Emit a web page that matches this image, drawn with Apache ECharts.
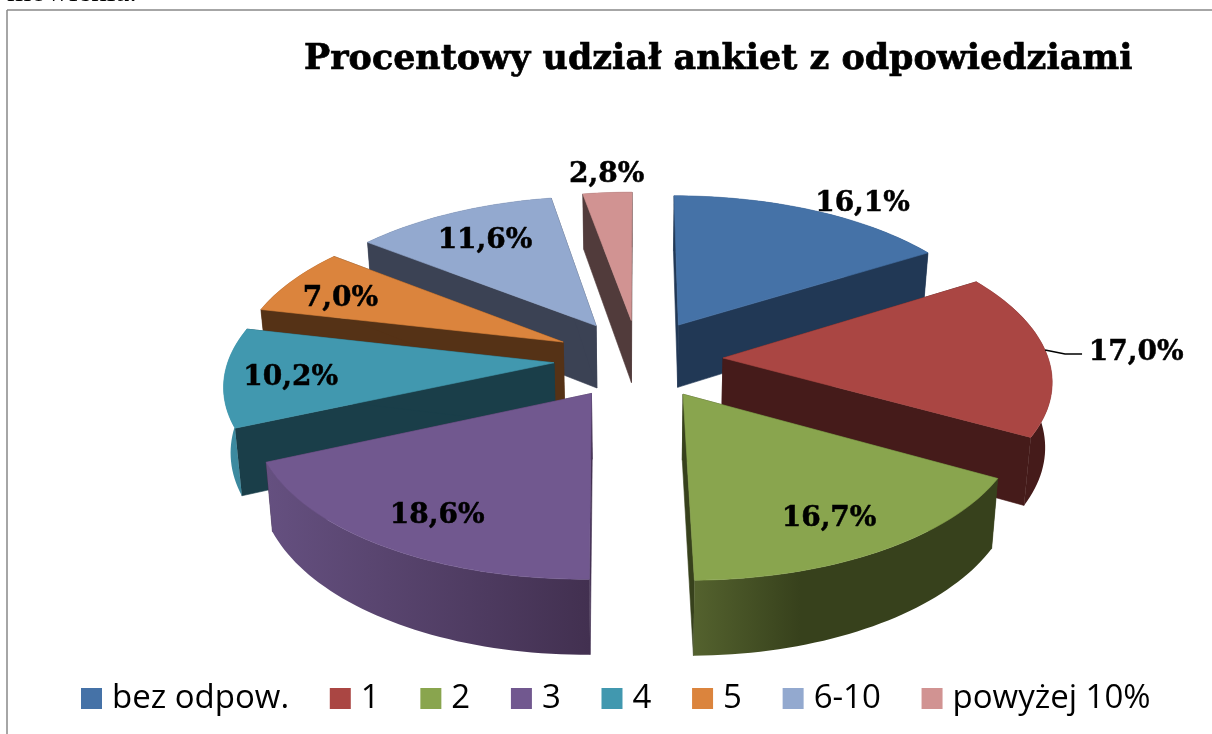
<!DOCTYPE html>
<html><head><meta charset="utf-8">
<style>html,body{margin:0;padding:0;background:#fff}#c{width:1212px;height:734px}</style>
<script src="https://cdn.jsdelivr.net/npm/echarts@6/dist/echarts.min.js"></script>
</head><body><div id="c"></div>
<script>
const categories = ['bez odpow.','1','2','3','4','5','6-10','powyżej 10%'];
const shares = [16.1,17.0,16.7,18.6,10.2,7.0,11.6,2.8];
const topColors = ['#4572a7','#aa4643','#89a54e','#71588f','#4198af','#db843d','#93a9cf','#d19392'];
const cutColors = ['#213855','#451b1a','#37411c','#433052','#1a3e49','#553216','#3b4254','#513b3b'];
const wallLeft  = ['#213855','#451b1a','#54622e','#655080','#3d8da3','#553216','#3b4254','#513b3b'];
const wallRight = ['#213855','#451b1a','#37411c','#423050','#3a8499','#553216','#3b4254','#513b3b'];
const wallStop  = [1,1,0.35,1,1,1,1,1];
const labelRadius = [1.14,1.278,0.80,0.80,0.80,0.788,0.739,1.16];
const labelTurn = [6.5,-0.2,2,-2.1,-1.3,-3.2,-0.7,0.5];

const view = {cx:638.5, cy:359, rx:325.4, ry:153.3, persp:0.1245, explode:0.26, depth:64, shrink:0.983};
const rad = d => d*Math.PI/180;
const total = shares.reduce((a,b)=>a+b,0);
let run = 0;
const slices = shares.map(v => { const a0 = run/total*360; run += v; const a1 = run/total*360; return {a0,a1,mid:(a0+a1)/2}; });

function project(s, angle, r, level){
  const X = r*Math.sin(rad(angle)) + view.explode*Math.sin(rad(s.mid));
  const Y = -r*Math.cos(rad(angle)) - view.explode*Math.cos(rad(s.mid));
  const p = 1/(1-view.persp*Y);
  const k = level ? view.shrink : 1;
  return [view.cx + view.rx*X*p*k, view.cy + view.ry*Y*p + (level?view.depth*p:0)];
}
function arc(s, level){
  const pts=[]; const n=Math.max(4,Math.ceil((s.a1-s.a0)/1.5));
  for(let i=0;i<=n;i++) pts.push(project(s, s.a0+(s.a1-s.a0)*i/n, 1, level));
  return pts;
}
function poly(points, fill){
  return {type:'polygon', shape:{points}, style:{fill, stroke:typeof fill==='string'?fill:null, lineWidth:0.6}};
}
function sliceItem(i){
  const s=slices[i];
  const apexT=project(s,s.mid,0,0), apexB=project(s,s.mid,0,1);
  const top=arc(s,0), bot=arc(s,1);
  const grad=new echarts.graphic.LinearGradient(0,0,1,0,[{offset:0,color:wallLeft[i]},{offset:wallStop[i],color:wallRight[i]},{offset:1,color:wallRight[i]}]);
  return {type:'group',children:[
    poly([apexT,top[0],bot[0],apexB],cutColors[i]),
    poly([apexT,top[top.length-1],bot[bot.length-1],apexB],cutColors[i]),
    poly(top.concat(bot.slice().reverse()),grad),
    poly([apexT].concat(top),topColors[i])
  ]};
}
function labelText(v){ return v.toFixed(1).replace('.',',')+'%'; }
function labelItems(){
  const kids=[];
  shares.forEach((v,i)=>{
    const s=slices[i];
    const c=project(s,s.mid+labelTurn[i],labelRadius[i],0);
    kids.push({type:'text',x:c[0],y:c[1],style:{text:labelText(v),fill:'#000',stroke:'#000',lineWidth:0.5,
      font:'bold 28px "DejaVu Serif"',align:'center',verticalAlign:'middle'}});
  });
  const s=slices[1], e=project(s,87,1,0);
  kids.push({type:'polyline',shape:{points:[e,[e[0]+20,e[1]+4],[e[0]+37,e[1]+4]]},style:{stroke:'#000',lineWidth:1.5,fill:null}});
  return {type:'group',children:kids};
}
const order = slices.map((s,i)=>({i,d:-Math.cos(rad(s.mid))})).sort((a,b)=>a.d-b.d).map(o=>o.i);
const series = categories.map((name,i)=>({
  type:'custom',name,coordinateSystem:'none',z:3+order.indexOf(i),silent:true,
  itemStyle:{color:topColors[i]},data:[[shares[i]]],renderItem:()=>sliceItem(i)
}));
series.push({type:'custom',name:'etykiety',coordinateSystem:'none',z:20,silent:true,data:[[0]],renderItem:labelItems});

const chart=echarts.init(document.getElementById('c'),null,{renderer:'canvas'});
chart.setOption({
  animation:false,backgroundColor:'#fff',
  title:{text:'Procentowy udział ankiet z odpowiedziami',left:304,top:42,padding:0,
    textStyle:{fontFamily:'DejaVu Serif',fontWeight:'bold',fontSize:34.9,color:'#000',textBorderColor:'#000',textBorderWidth:0.7}},
  legend:{data:categories,left:81,top:682,padding:0,itemWidth:21,itemHeight:21,itemGap:40.7,icon:'rect',selectedMode:false,
    textStyle:{fontFamily:'Open Sans',fontSize:33,color:'#000',padding:[2,0,0,5]}},
  graphic:[
    {type:'line',z:1,shape:{x1:7,y1:10,x2:1212,y2:10},style:{stroke:'#888',lineWidth:1.5}},
    {type:'line',z:1,shape:{x1:7,y1:10,x2:7,y2:734},style:{stroke:'#888',lineWidth:1.5}},
    {type:'text',z:1,x:7,y:8,style:{text:'mówienia.',font:'31px "Liberation Serif"',fill:'#000',verticalAlign:'bottom'}}
  ],
  series
});
</script></body></html>
